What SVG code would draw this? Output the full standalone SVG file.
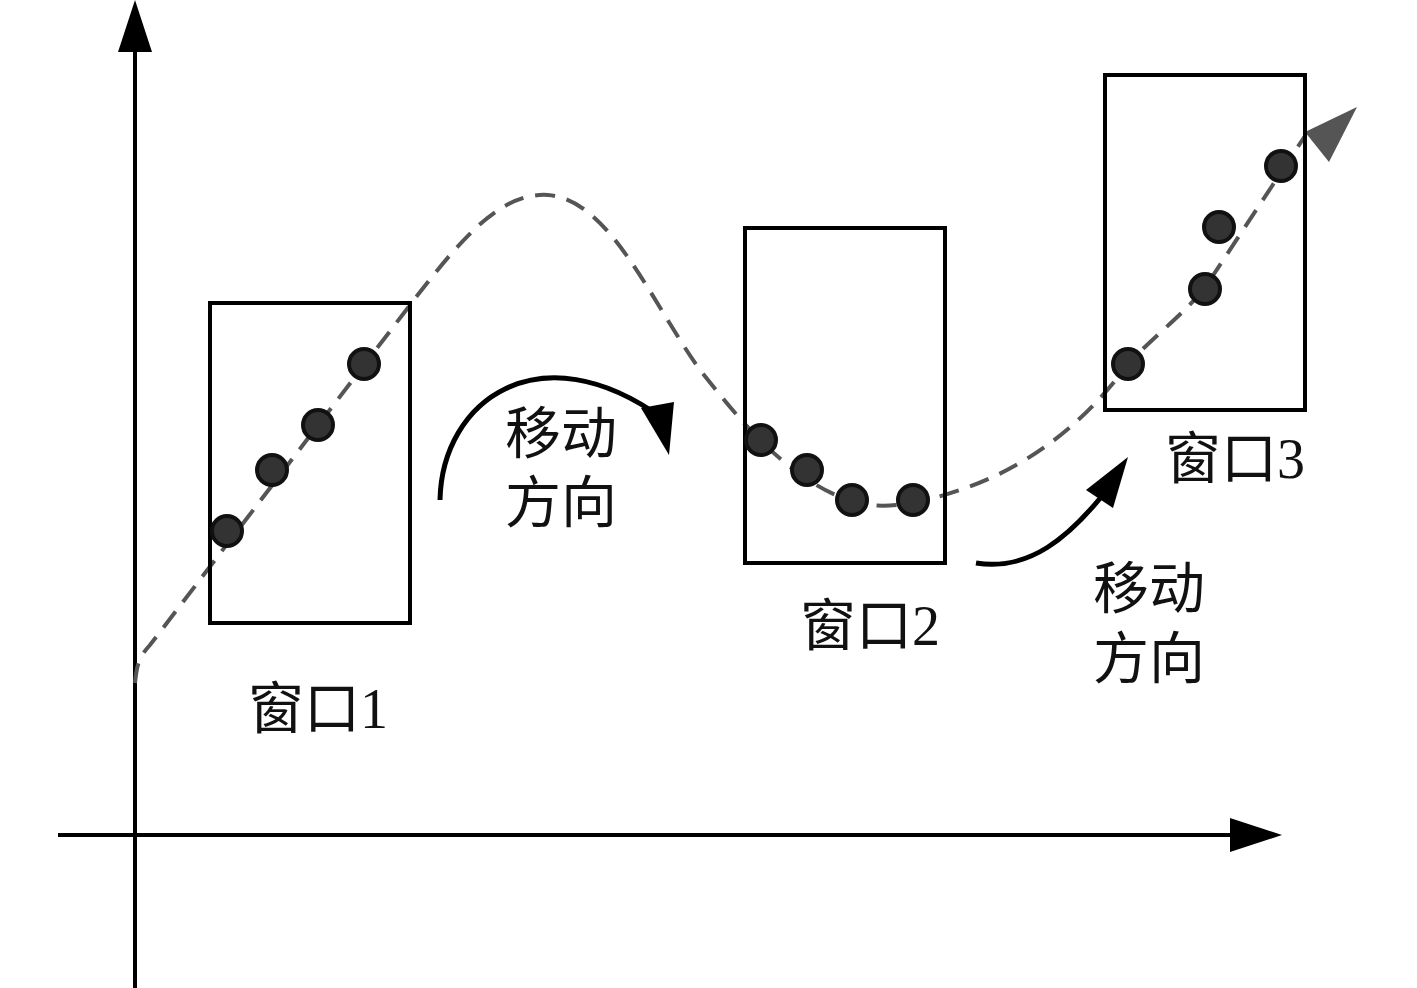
<svg xmlns="http://www.w3.org/2000/svg" width="1417" height="988" viewBox="0 0 1417 988">
<style>
.ax{stroke:#000;stroke-width:4;fill:none}
.win{fill:none;stroke:#000;stroke-width:4}
.dot{fill:#333;stroke:#111;stroke-width:4}
.dash{fill:none;stroke:#555;stroke-width:4;stroke-dasharray:20 12}
.mv{fill:none;stroke:#000;stroke-width:5}
text{font-family:"Liberation Serif","Noto Sans CJK SC",serif;font-size:56px;fill:#111}
</style>
<rect width="1417" height="988" fill="#fff"/>
<g id="axes">
<line class="ax" x1="135" y1="988" x2="135" y2="45"/>
<polygon points="135,0 118,52 152,52" fill="#000"/>
<line class="ax" x1="58" y1="835" x2="1235" y2="835"/>
<polygon points="1282,835 1230,818 1230,852" fill="#000"/>
</g>
<g id="connectors">
<path class="dash" d="M135,683 C137,662 140,656 150,645 L410,305 C460,240 500,192 548,195 C610,200 650,300 700,370 C720,395 740,420 760,440 C790,470 830,500 870,505 C900,508 930,500 960,490 C1020,470 1080,430 1128,364 C1160,330 1190,310 1210,280 L1305,136"/>
<polygon points="1305,132 1357,107 1329,162" fill="#555"/>
<path class="mv" d="M440,500 C442,400 540,330 662,418"/>
<polygon points="641,408 674,402 669,455" fill="#000"/>
<path class="mv" d="M976,563 C1030,572 1070,535 1102,496"/>
<polygon points="1086,490 1128,457 1113,508" fill="#000"/>
</g>
<g id="window1">
<rect class="win" x="210" y="303" width="200" height="320"/>
<circle class="dot" cx="227" cy="531" r="15"/>
<circle class="dot" cx="272" cy="470" r="15"/>
<circle class="dot" cx="318" cy="425" r="15"/>
<circle class="dot" cx="364" cy="364" r="15"/>
<text x="248" y="728">窗口1</text>
</g>
<g id="window2">
<rect class="win" x="745" y="228" width="200" height="335"/>
<circle class="dot" cx="761" cy="440" r="15"/>
<circle class="dot" cx="807" cy="470" r="15"/>
<circle class="dot" cx="852" cy="500" r="15"/>
<circle class="dot" cx="913" cy="500" r="15"/>
<text x="800" y="645">窗口2</text>
</g>
<g id="window3">
<rect class="win" x="1105" y="75" width="200" height="335"/>
<circle class="dot" cx="1128" cy="364" r="15"/>
<circle class="dot" cx="1205" cy="289" r="15"/>
<circle class="dot" cx="1219" cy="227" r="15"/>
<circle class="dot" cx="1281" cy="166" r="15"/>
<text x="1165" y="478">窗口3</text>
</g>
<g id="label1">
<text x="505" y="453">移动</text>
<text x="505" y="522">方向</text>
</g>
<g id="label2">
<text x="1093" y="608">移动</text>
<text x="1093" y="678">方向</text>
</g>
</svg>
